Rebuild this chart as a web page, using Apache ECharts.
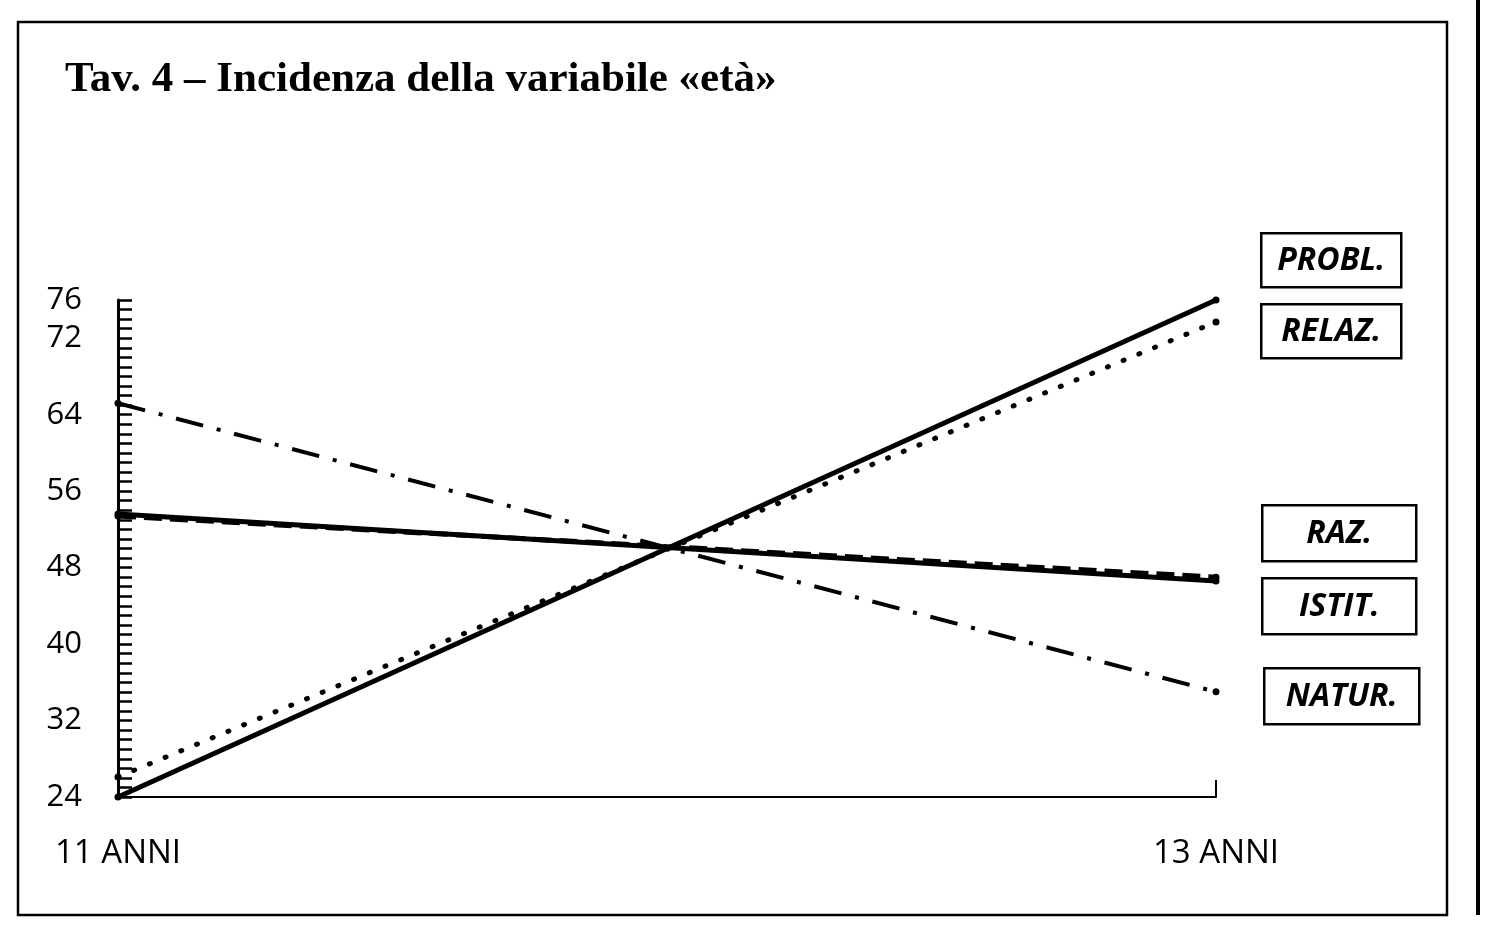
<!DOCTYPE html>
<html>
<head>
<meta charset="utf-8">
<script src="https://cdn.jsdelivr.net/npm/echarts@6/dist/echarts.min.js"></script>
<style>
html,body{margin:0;padding:0;background:#fff;}
#chart{width:1498px;height:942px;}
</style>
</head>
<body>
<div id="chart"></div>
<script>
const categories = ['11 ANNI', '13 ANNI'];
const probl = [24, 76];
const relaz = [26.1, 73.7];
const raz = [53.6, 46.6];
const istit = [53.4, 47.0];
const natur = [65.2, 35.0];
const yTickLabels = [24, 32, 40, 48, 56, 64, 72, 76];
const seriesNames = ['PROBL.', 'RELAZ.', 'RAZ.', 'ISTIT.', 'NATUR.'];

const chart = echarts.init(document.getElementById('chart'));
const font = '"Open Sans", "Noto Sans", sans-serif';

function box(x, y, w, h, text) {
  return {
    type: 'group', left: x, top: y,
    children: [
      {type: 'rect', shape: {x: 0, y: 0, width: w, height: h},
       style: {fill: '#fff', stroke: '#000', lineWidth: 2.5}},
      {type: 'text', x: w / 2, y: h / 2 + 1,
       style: {text: text, fill: '#000', font: 'italic bold 32px ' + font,
               align: 'center', verticalAlign: 'middle'}}
    ]
  };
}

function line(name, data, type, width, cap) {
  return {
    name: name, type: 'line', data: data,
    symbol: 'circle', symbolSize: 7,
    itemStyle: {color: '#000'},
    lineStyle: {color: '#000', width: width, type: type, cap: cap || 'butt'},
    animation: false
  };
}

chart.setOption({
  animation: false,
  backgroundColor: '#fff',
  grid: {left: 118, right: 282, top: 300, bottom: 145, containLabel: false},
  xAxis: {
    type: 'category', data: categories, boundaryGap: false,
    axisLine: {lineStyle: {color: '#000', width: 2}},
    axisTick: {show: true, inside: true, length: 17, lineStyle: {color: '#000', width: 2}},
    axisLabel: {color: '#000', fontSize: 33, fontFamily: font, fontWeight: 500, margin: 40}
  },
  yAxis: {
    type: 'value', min: 24, max: 76, interval: 1,
    splitLine: {show: false},
    axisLine: {show: true, lineStyle: {color: '#000', width: 3}},
    axisTick: {show: true, inside: true, length: 14, lineStyle: {color: '#000', width: 2.5}},
    axisLabel: {
      color: '#000', fontSize: 31, fontFamily: font, fontWeight: 500, margin: 36,
      formatter: v => yTickLabels.indexOf(v) >= 0 ? String(v) : ''
    }
  },
  series: [
    line(seriesNames[0], probl, 'solid', 5),
    line(seriesNames[1], relaz, [1, 16], 5, 'round'),
    line(seriesNames[2], raz, 'solid', 5),
    line(seriesNames[3], istit, [18, 8], 5),
    line(seriesNames[4], natur, [28, 14, 4, 14], 4)
  ],
  graphic: [
    {type: 'rect', shape: {x: 18, y: 22, width: 1429, height: 893},
     style: {fill: 'none', stroke: '#000', lineWidth: 2.5}, z: -1},
    {type: 'line', shape: {x1: 1478, y1: 0, x2: 1478, y2: 915},
     style: {stroke: '#000', lineWidth: 4}},
    {type: 'text', left: 65, top: 58,
     style: {text: 'Tav. 4 – Incidenza della variabile «età»', fill: '#000',
             font: 'bold 43px "Liberation Serif", "DejaVu Serif", serif'}},
    box(1260, 232, 140, 54, seriesNames[0]),
    box(1260, 303, 140, 54, seriesNames[1]),
    box(1261, 504, 154, 56, seriesNames[2]),
    box(1261, 577, 154, 56, seriesNames[3]),
    box(1263, 667, 155, 56, seriesNames[4])
  ]
});
</script>
</body>
</html>
